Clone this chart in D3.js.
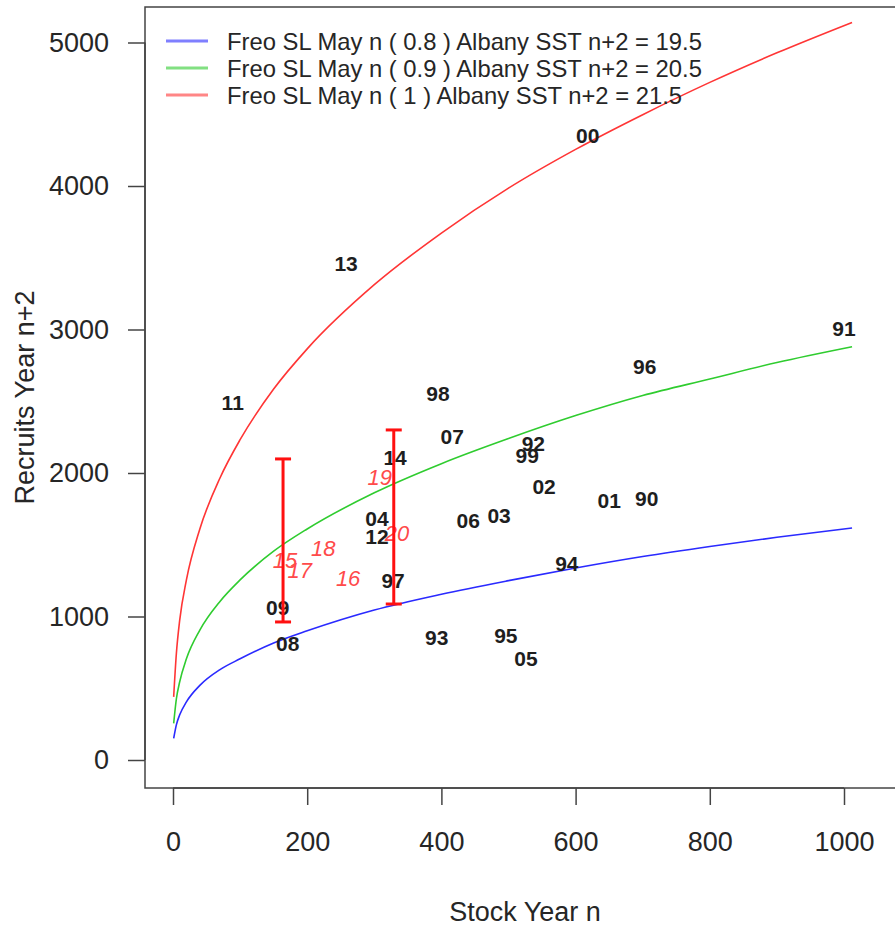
<!DOCTYPE html>
<html>
<head>
<meta charset="utf-8">
<script src="https://cdn.jsdelivr.net/npm/d3@7"></script>
<style>
  html, body { margin: 0; padding: 0; background: #fff; }
  svg { display: block; font-family: "Liberation Sans", Arial, sans-serif; }
</style>
</head>
<body>
<svg id="chart" width="895" height="926"></svg>
<script>
// ---- Data ----
const curveStock = [1, 5, 10, 20, 40, 70, 100, 150, 200, 300, 400, 500, 600, 700, 800, 900, 1012];
const curveBlue  = [150, 245, 315, 405, 520, 630, 705, 815, 900, 1045, 1155, 1250, 1338, 1418, 1488, 1552, 1617];
const curveGreen = [255, 425, 545, 705, 905, 1105, 1255, 1455, 1610, 1862, 2065, 2240, 2400, 2540, 2655, 2770, 2880];
const curveRed   = [440, 740, 975, 1255, 1610, 1965, 2232, 2585, 2865, 3312, 3672, 3985, 4255, 4497, 4722, 4928, 5140];

const legendLabels = [
  "Freo SL May n ( 0.8 ) Albany SST n+2 = 19.5",
  "Freo SL May n ( 0.9 ) Albany SST n+2 = 20.5",
  "Freo SL May n ( 1 ) Albany SST n+2 = 21.5"
];

// Historical years (black bold labels)
const yearLabels = ["00","13","11","98","91","96","07","92","99","14","02","01","90","04","12","06","03","97","94","09","08","93","95","05"];
const yearStock  = [618, 258, 89, 395, 1000, 703, 416, 537, 528, 331, 553, 650, 706, 304, 304, 440, 486, 328, 587, 156, 171, 393, 496, 526];
const yearRecr   = [4355, 3463, 2495, 2557, 3010, 2746, 2258, 2209, 2125, 2111, 1909, 1812, 1826, 1686, 1561, 1672, 1707, 1254, 1373, 1066, 815, 857, 871, 711];

// Recent years (red italic labels)
const recentLabels = ["19","20","15","18","17","16"];
const recentStock  = [308, 334, 167, 224, 189, 261];
const recentRecr   = [1972, 1582, 1394, 1477, 1324, 1268];

// Error bars
const barStock = [164, 329];
const barLow   = [962, 1087];
const barHigh  = [2098, 2300];

const xTicks = [0, 200, 400, 600, 800, 1000];
const yTicks = [0, 1000, 2000, 3000, 4000, 5000];

// ---- Layout ----
const svg = d3.select("#chart");
const box = { left: 145, right: 905, top: 7, bottom: 788 };
const x = d3.scaleLinear().domain([0, 1000]).range([173, 844]);
const y = d3.scaleLinear().domain([0, 5000]).range([760, 42.5]);

const colBlue = "#2a2aff", colGreen = "#2fcc2f", colRed = "#ff3535";
const textCol = "#262626";

// Axes
const xAxis = d3.axisBottom(x).tickValues(xTicks).tickSize(17).tickPadding(27).tickFormat(d3.format("d"));
const gx = svg.append("g").attr("transform", `translate(0,${box.bottom})`).call(xAxis);
gx.select(".domain").attr("d", `M${x(0)},0H${x(1000)}`).attr("stroke", "#444").attr("stroke-width", 1.5);
gx.selectAll(".tick line").attr("stroke", "#444").attr("stroke-width", 1.5);
gx.selectAll(".tick text").attr("font-size", 27).attr("fill", textCol).attr("font-family", "Liberation Sans, Arial, sans-serif");

const yAxis = d3.axisLeft(y).tickValues(yTicks).tickSize(17).tickPadding(19).tickFormat(d3.format("d"));
const gy = svg.append("g").attr("transform", `translate(${box.left},0)`).call(yAxis);
gy.select(".domain").attr("d", `M0,${y(0)}V${y(5000)}`).attr("stroke", "#444").attr("stroke-width", 1.5);
gy.selectAll(".tick line").attr("stroke", "#444").attr("stroke-width", 1.5);
gy.selectAll(".tick text").attr("font-size", 27).attr("fill", textCol).attr("font-family", "Liberation Sans, Arial, sans-serif");

// Plot box
svg.append("rect")
  .attr("x", box.left).attr("y", box.top)
  .attr("width", box.right - box.left).attr("height", box.bottom - box.top)
  .attr("fill", "none").attr("stroke", "#444").attr("stroke-width", 1.5);

// Axis titles
svg.append("text").attr("x", (box.left + box.right) / 2).attr("y", 921)
  .attr("text-anchor", "middle").attr("font-size", 27).attr("fill", textCol)
  .text("Stock Year n");
svg.append("text").attr("transform", `translate(34,${(box.top + box.bottom) / 2}) rotate(-90)`)
  .attr("text-anchor", "middle").attr("font-size", 27).attr("fill", textCol)
  .text("Recruits Year n+2");

// Curves
const line = d3.line().x(d => x(d[0])).y(d => y(d[1])).curve(d3.curveMonotoneX);
const curves = [curveBlue, curveGreen, curveRed];
const cols = [colBlue, colGreen, colRed];
curves.forEach((vals, i) => {
  svg.append("path")
    .datum(curveStock.map((s, j) => [s, vals[j]]))
    .attr("d", line).attr("fill", "none")
    .attr("stroke", cols[i]).attr("stroke-width", 1.6);
});

// Legend (no box)
const legendY = [41, 68, 95];
legendLabels.forEach((lab, i) => {
  svg.append("line").attr("x1", 166).attr("x2", 208).attr("y1", legendY[i]).attr("y2", legendY[i])
    .attr("stroke", cols[i]).attr("stroke-opacity", 0.6).attr("stroke-width", 3);
  svg.append("text").attr("x", 227).attr("y", legendY[i]).attr("dy", "0.36em")
    .attr("font-size", 23.8).attr("fill", textCol).text(lab);
});

// Year labels
svg.append("g").selectAll("text").data(yearLabels).join("text")
  .attr("x", (d, i) => x(yearStock[i])).attr("y", (d, i) => y(yearRecr[i]))
  .attr("dy", "0.36em").attr("text-anchor", "middle")
  .attr("font-size", 21).attr("font-weight", "bold").attr("fill", "#1e1e1e")
  .text(d => d);

svg.append("g").selectAll("text").data(recentLabels).join("text")
  .attr("x", (d, i) => x(recentStock[i])).attr("y", (d, i) => y(recentRecr[i]))
  .attr("dy", "0.36em").attr("text-anchor", "middle")
  .attr("font-size", 22).attr("font-style", "italic").attr("fill", "#ff4a4a")
  .text(d => d);

// Error bars
const eb = svg.append("g").attr("stroke", "#ff1010").attr("stroke-width", 3);
barStock.forEach((s, i) => {
  const cx = x(s);
  eb.append("line").attr("x1", cx).attr("x2", cx).attr("y1", y(barLow[i])).attr("y2", y(barHigh[i]));
  eb.append("line").attr("x1", cx - 8).attr("x2", cx + 8).attr("y1", y(barLow[i])).attr("y2", y(barLow[i]));
  eb.append("line").attr("x1", cx - 8).attr("x2", cx + 8).attr("y1", y(barHigh[i])).attr("y2", y(barHigh[i]));
});
</script>
</body>
</html>
